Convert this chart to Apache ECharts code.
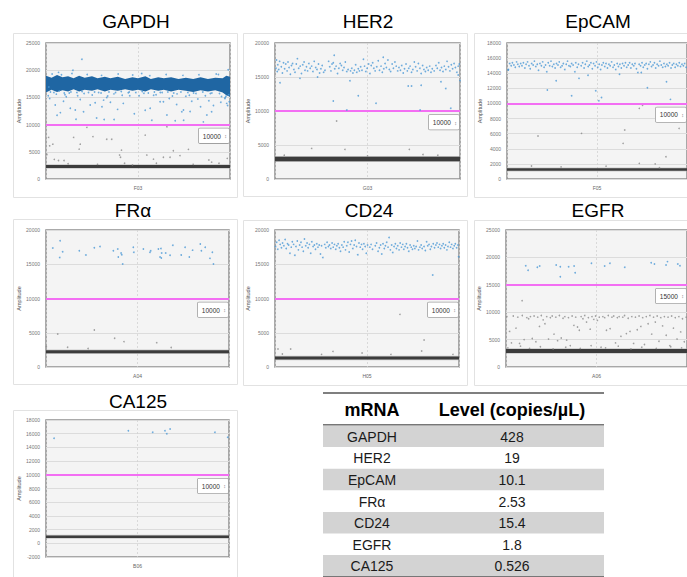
<!DOCTYPE html>
<html><head><meta charset="utf-8">
<script src="https://cdn.jsdelivr.net/npm/echarts@6/dist/echarts.min.js"></script>
<style>html,body{margin:0;padding:0;background:#fff}#c{width:687px;height:577px}</style>
</head><body><div id="c"></div>
<script>
// ---------- DATA ----------
const panelNames = ['GAPDH','HER2','EpCAM','FRα','CD24','EGFR','CA125'];
const wellIds = ['F03','G03','F05','A04','H05','A06','B06'];
const thresholds = [10000,10000,10000,10000,10000,15000,10000];
const negBandLevels = [2300,2950,1250,2230,1320,2900,950];
const yMins = [0,0,0,0,0,0,-2000];
const yMaxs = [25000,20000,18000,20000,20000,25000,18000];
const yIntervals = [5000,5000,2000,5000,5000,5000,2000];

// GAPDH dense positive cloud (upper / lower edges)
const gapdhCloudUpper = [[0,19000],[3,18600],[6,19100],[9,18700],[12,18900],[15,18500],[18,19000],[21,18600],[25,18900],[28,18500],[32,18800],[35,18500],[39,18800],[43,18400],[47,18700],[50,18500],[54,18900],[57,18400],[61,18700],[64,18500],[68,18700],[72,18400],[76,18600],[80,18400],[84,18700],[88,18400],[92,18600],[96,18500],[98,19000],[100,18800]];
const gapdhCloudLower = [[0,15900],[3,16400],[6,16000],[9,16300],[12,16100],[15,16500],[18,16100],[21,16400],[25,16200],[28,16500],[32,16100],[35,16400],[39,16200],[43,16500],[47,16200],[50,16400],[54,16100],[57,16500],[61,16200],[64,16400],[68,16100],[72,16400],[76,16200],[80,16000],[84,16300],[88,16100],[92,16300],[96,15900],[98,15400],[100,15100]];
const gapdhPos = [[19.5,22000],[14.6,20000],[6.8,19600],[5,13600],[7.8,12200],[6,11700],[16.3,11000],[18.6,14600],[9.5,14300],[13.2,13000],[15.9,12700],[20.4,12350],[26.7,14000],[30.4,13300],[31.3,14500],[33,15000],[38.9,12800],[37,10950],[31.6,10950],[52,19400],[93.7,19200],[99,20100],[98.2,13900],[98.7,13500],[97.4,15000],[53.9,12650],[56.6,13000],[57.5,10800],[70.2,10700],[74.8,10800],[85.5,10500],[73.8,12350],[74.7,12700],[78.3,12400],[79.2,14300],[65.7,11750],[62,14200],[63.8,14200],[71,13700],[87.4,11750],[90,12350],[91,13500],[88.5,14400],[82.5,14700],[2,14800],[11,15100],[24,13600],[27.5,11200],[35,14100],[42,13900],[45.5,15300],[48,12000],[58.5,15400],[67,14800],[76,15200],[84,13300],[95,14100],[1.5,16900],
[1.2,15300],[3.3,19300],[5.6,15600],[8.4,19150],[10.3,15500],[12.6,15800],[14.1,19400],[17.2,15300],[20.7,15700],[22.4,19200],[25.1,15450],[28.6,15900],[30.2,19050],[33.5,15250],[36.9,15650],[39.2,19300],[41.4,15400],[44.7,15850],[47.1,19100],[50.6,15300],[53.2,15750],[56.4,19000],[59.8,15500],[62.1,15900],[65.3,19200],[68.7,15250],[71.2,15650],[74.4,19050],[77.9,15400],[80.2,15800],[83.1,19150],[86.6,15300],[89.3,15700],[92.5,19300],[95.4,15150],[97.2,14800],[99.3,15500],[99.6,14200],
[2.4,16000],[4.3,15900],[7.2,16200],[9.9,15800],[13.5,16000],[16.8,15900],[19.6,16100],[23.1,15900],[26.4,16000],[29.9,15800],[34.2,16000],[37.8,15900],[40.9,16100],[45.2,16000],[48.8,15900],[52.3,16100],[55.6,15800],[58.9,16000],[63.1,15900],[66.2,16000],[69.4,15800],[73.3,16000],[77.1,15900],[81.5,15700],[85.2,16000],[90.1,15800],[94.3,15700],[97.8,15200]];
const gapdhNeg = [[22.2,9500],[1.4,7650],[2,6100],[3.7,6400],[15,7650],[25.5,7800],[18.6,6400],[18,5500],[33,7300],[35.7,7300],[41,5300],[40,4400],[40.5,4000],[4.5,3600],[6.8,3400],[9.8,3400],[42.7,2900],[53.9,8070],[65.7,9600],[69.2,5200],[77.4,5450],[54.8,4400],[58.4,3650],[63.8,4000],[67.4,4000],[72.8,4300],[88.5,3500],[94,2900],[98.5,3800],[0.5,4500],[12,2800],[28,2700],[47,2600],[60,2900],[80,2700],[90,3100]];

const her2Pos = [[0.5,16300],[0.8,17500],[1.2,15800],[1.5,16800],[2,16100],[2.5,17300],[3.4,16500],[4,15600],[4.6,17100],[5.2,16200],[5.8,16900],[6.5,15900],[7,17200],[7.6,16400],[8.3,15400],[8.9,16700],[9.5,17000],[10.2,16100],[10.8,15700],[11.5,16900],[12.1,17700],[12.8,16300],[13.6,16600],[14.3,15500],[15,16800],[15.7,17200],[16.2,16000],[17,16500],[17.6,15900],[18.3,17000],[19,16300],[19.8,16600],[20.5,15800],[21.2,17300],[22,16400],[22.7,16100],[23.5,16900],[24.1,15600],[24.8,16200],[25.5,16700],[26.3,15700],[27,16000],[29,17300],[29.6,16500],[30.2,15900],[30.8,16900],[31.5,17100],[32.3,16200],[33,16600],[33.8,15500],[34.5,16300],[35.2,17000],[35.9,16700],[36.6,16000],[37.3,16400],[38,17200],[38.8,15800],[39.5,16100],[40.8,15900],[41.5,16300],[42.1,15600],[42.9,16000],[43.6,16800],[44.2,15700],[45,16200],[45.6,15900],[46.3,16500],[47,16000],[47.8,17600],[48.4,16600],[49.1,15800],[49.8,16300],[50.6,16900],[51.3,15500],[52,16700],[52.8,17100],[53.4,16300],[54.1,15900],[55,16500],[55.8,17400],[56.5,16000],[57.3,16600],[58,15700],[58.8,16200],[59.5,17000],[60.2,16400],[61,17500],[61.8,16100],[62.5,15800],[63.3,16900],[64,16300],[64.8,17200],[65.5,16600],[66.3,15900],[67,16400],[67.8,16000],[68.5,16700],[69.3,15600],[70,16200],[70.8,16900],[71.5,15900],[72.3,16300],[73,16600],[73.8,15700],[74.5,16100],[75.3,17200],[76,16500],[76.8,15900],[77.5,17000],[78.3,16300],[79,15500],[79.8,16700],[80.5,16100],[81.3,15800],[82,16400],[82.8,16000],[83.6,16600],[84.3,15700],[85,16200],[86,15900],[87,16700],[87.7,16300],[88.5,17100],[89.2,16000],[90,16400],[90.8,15800],[91.5,16600],[92.3,16100],[93,17300],[93.8,16500],[94.5,15900],[95.3,16800],[96,16200],[96.8,17000],[97.5,16400],[98.3,15700],[99,16600],[99.6,16900],
[2.7,14160],[31.5,11470],[45,12250],[54.6,11130],[38.8,10150],[78.4,10150],[95,10400],[40.5,14460],[72,13680],[73.8,13680],[79,13800],[92.3,13300],[89.7,14300],[13.5,14800],[23,15000],[100,14500],[99,15300],[32,18200],[58.5,17900]];
const her2Neg = [[33.3,8530],[19.8,4500],[37.8,4350],[72.6,4350],[80,3600],[5,3500],[50,3400],[88,3500]];

const epcamPos = [[0.8,14500],[1.5,15300],[2.3,15000],[3,15400],[3.8,15100],[4.6,14800],[5.3,15500],[6,15200],[6.8,14900],[7.6,15300],[8.3,15000],[9.1,15400],[9.9,14700],[10.6,15200],[11.4,15500],[12.2,15000],[12.9,14600],[13.7,15300],[14.5,15100],[15.2,15600],[16,14900],[16.8,15200],[17.5,14400],[18.3,15300],[19.1,15000],[19.8,15500],[20.6,14800],[21.4,15100],[22.1,14200],[22.9,15400],[23.7,15000],[24.4,15600],[25.2,14900],[26,15200],[26.7,14700],[27.5,15300],[28.3,15100],[29,15500],[29.8,14800],[30.6,15000],[31.3,15300],[32.1,14500],[32.9,15200],[33.6,15600],[34.4,15000],[35.2,14900],[35.9,15300],[36.7,15100],[38.2,15400],[39,14800],[39.7,15200],[41.2,15000],[42,15400],[42.8,14700],[43.5,15200],[44.3,15600],[45.1,14900],[45.8,15100],[46.6,15400],[47.4,14600],[48.1,15300],[48.9,15000],[49.7,15500],[50.4,14800],[51.2,15200],[52,14500],[52.7,15100],[53.5,15400],[54.3,14900],[55,15300],[55.8,14700],[56.6,15200],[57.3,15000],[58.1,15500],[58.9,14800],[59.6,15100],[60.4,14500],[61.2,15300],[61.9,14900],[62.7,15200],[63.5,14700],[64.2,15300],[65,15000],[65.8,15400],[66.5,14800],[67.3,15100],[68.1,15400],[68.8,14700],[69.6,15200],[70.4,15000],[71.1,15300],[71.9,14600],[72.7,14100],[73.4,15200],[74.2,15000],[75,15400],[75.7,14800],[76.5,15100],[77.3,15300],[78,14600],[78.8,15200],[79.6,15500],[80.3,14900],[81.1,15100],[81.9,15400],[82.6,14700],[83.4,15200],[84.2,15000],[84.9,15600],[85.7,15100],[86.5,14800],[87.2,15300],[88,14900],[88.8,15200],[89.5,15000],[90.3,15400],[91.1,14700],[91.8,15100],[92.6,15300],[93.4,14800],[94.1,15200],[94.9,15000],[95.7,15400],[96.4,14900],[97.2,15200],[98,15000],[98.7,15300],[99.5,14800],
[0.7,14420],[22.4,11770],[27.3,13000],[35.9,11020],[37.7,14200],[40,13320],[45,13740],[49.3,11680],[51,10360],[52.5,10800],[62.5,13850],[74.6,14100],[78,12080],[88.6,12870],[90.8,10540]];
const epcamNeg = [[73.5,9350],[75.3,9750],[17.2,5690],[41.4,6040],[65.4,6480],[64.5,4720],[73.5,2070],[82.3,2000],[88.3,2950],[95.6,6700],[13.6,1720],[84.7,1500],[30,1600],[55,1700]];

const fraPos = [[3.7,17370],[7.7,18440],[7.5,16000],[9.1,16830],[18.2,16980],[21.8,16350],[26.4,17420],[29.5,17580],[36.8,16980],[39.2,17220],[39.5,16050],[41,16640],[41.4,16400],[41.9,15040],[47.7,17470],[48,16740],[53.2,17230],[56.8,16740],[57.2,16980],[61.4,17230],[62.3,16050],[62.8,17300],[63.2,16640],[63,15900],[65.4,16640],[67.8,16300],[69.3,17760],[73.9,16350],[76,17480],[78.3,16050],[80.1,17060],[84.3,17960],[84.9,16980],[87,17480],[89.6,15860],[90.9,16740],[91.5,15040]];
const fraNeg = [[6.4,4820],[26.4,5400],[37.5,4190],[42.6,3700],[60.5,3550],[11.8,2880],[68.4,2850],[0.2,2950],[23,2700]];

const cd24Pos = [[0.3,17600],[0.9,18200],[1.5,17200],[2.2,18500],[2.8,17900],[3.5,17400],[4.1,18100],[4.8,17700],[5.5,18600],[6.1,17300],[6.8,18000],[7.4,17800],[8.1,16600],[8.8,17500],[9.4,18300],[10.1,17900],[10.8,16300],[11.4,17600],[12.1,18400],[12.7,17100],[13.4,17800],[14.1,18200],[14.7,17500],[15.4,16900],[16,18700],[16.7,17700],[17.4,18100],[18,17400],[18.7,17900],[19.4,16600],[20,18300],[20.7,17600],[21.4,17800],[22,17200],[22.7,18000],[23.3,17500],[24,17800],[24.7,16500],[25.3,17700],[26,16000],[27,17900],[27.6,17400],[28.3,18200],[29,17600],[29.6,17800],[30.3,17300],[31,18100],[31.6,17500],[32.3,17900],[33,17200],[33.6,17700],[34.3,18000],[35,17400],[35.6,16900],[36.3,17800],[37,17500],[37.6,18300],[38.3,17100],[39,17700],[39.6,18200],[40.3,16800],[41,17900],[41.6,18400],[42.3,17300],[43,17800],[43.6,18500],[44.3,17600],[45,16400],[45.6,18100],[46.3,17500],[47,17900],[47.6,17200],[48.3,18000],[49,17600],[49.6,16600],[50.3,17800],[51.5,17500],[52.2,17900],[53,17200],[54.5,17700],[55.2,18100],[56,16900],[56.7,17400],[57.4,17800],[58,16500],[58.7,18000],[59.4,17300],[60,17700],[60.7,18200],[61.4,17500],[62,18900],[62.7,17100],[63.4,17800],[64,16700],[64.7,17600],[65.4,18000],[66,17300],[66.7,17700],[67.4,17100],[68,18100],[68.7,17500],[69.4,17900],[70,17200],[70.7,17600],[71.4,18000],[72,17400],[72.7,16900],[73.4,17800],[74,17500],[74.7,17200],[75.4,17700],[76,17300],[76.7,17600],[77.4,18400],[78,17100],[78.7,17500],[79.4,17800],[80,17300],[81,17600],[81.7,17000],[82.4,18300],[83,17700],[83.7,17900],[84.4,17200],[85,17600],[86,18000],[86.7,17400],[87.4,17800],[88,18100],[88.7,17500],[89.4,17900],[90,17300],[90.7,17700],[91.4,18000],[92,17400],[92.7,17800],[93.4,17100],[94,17600],[94.7,18200],[95.4,17500],[96,17900],[96.7,17300],[97.4,17700],[98,18000],[98.7,17400],[99.4,17800],[99.8,16100],[85.7,13430]];
const cd24Neg = [[67.9,7690],[81,3940],[79.7,2330],[8.5,2630],[1.6,2630],[25.3,1850],[31.5,2280],[47.3,2040],[63,1850],[96.7,1850],[4,1900]];

const egfrPos = [[10.9,18490],[12.2,17640],[17.3,18190],[18.6,18430],[27.7,18610],[30,18310],[30,16480],[34.6,18310],[37.6,18430],[38.2,17210],[47.2,18920],[54.5,18430],[57.4,18920],[65.6,18190],[80.2,19040],[82,18800],[88.4,18610],[89.2,19230],[94.9,18800],[96.1,18490]];
const egfrNeg = [[0.5,9200],[2,6500],[3,4400],[4,9300],[5.5,7100],[6.5,9100],[7.5,4300],[9,9400],[10,5000],[11.5,9000],[12.5,8800],[13.5,9200],[14.5,5200],[15.5,9300],[16.5,4600],[17.5,9100],[18.5,7400],[19.5,9400],[20.5,8600],[21.5,7900],[22.5,9200],[23.5,5100],[24.5,9000],[25.5,9300],[26.5,6000],[27.5,9100],[28.5,4800],[29.5,9400],[30.5,5300],[31.5,8900],[32.5,9200],[33.5,4900],[34.5,9000],[35.5,3900],[36.5,9300],[37.5,7600],[38.5,9100],[39.5,7300],[40.5,6700],[41.5,9200],[42.5,8800],[43.5,9400],[44.5,8200],[45.5,9000],[46.5,6900],[47.5,9200],[48.5,8700],[49.5,9300],[50.5,8500],[51.5,9100],[52.5,3600],[53.5,9200],[54.5,9000],[55.5,6700],[56.5,9400],[57.5,7000],[58.5,9100],[59.5,9300],[60.5,4400],[61.5,9000],[62.5,9200],[63.5,5600],[64.5,9100],[65.5,9400],[66.5,6100],[67.5,8900],[68.5,6500],[69.5,9200],[70.5,4300],[71.5,9100],[72.5,6800],[73.5,9300],[74.5,7400],[75.5,9000],[76.5,4100],[77.5,9200],[78.5,7900],[79.5,9400],[80.5,6000],[81.5,9100],[82.5,8200],[83.5,9300],[84.5,4700],[85.5,9000],[86.5,7500],[87.5,9200],[88.5,5800],[89.5,9100],[90.5,3900],[91.5,9300],[92.5,7100],[93.5,9000],[94.5,5100],[95.5,9200],[96.5,6400],[97.5,8800],[98.5,4600],[99.5,9100],
[1,3500],[8,3800],[13,3400],[19,3700],[26,3300],[33,3600],[41,3400],[47,3900],[55,3500],[62,3800],[69,3300],[75,3600],[83,3400],[91,3700],[97,3500],[8.9,12100]];

const ca125Pos = [[4.4,15330],[45,16440],[58.3,16200],[65,16440],[66,16000],[67.8,16690],[92.3,16200],[99.3,15470]];
const ca125Neg = [];

const posData = [gapdhPos, her2Pos, epcamPos, fraPos, cd24Pos, egfrPos, ca125Pos];
const negData = [gapdhNeg, her2Neg, epcamNeg, fraNeg, cd24Neg, egfrNeg, ca125Neg];

const tableHeader = ['mRNA', 'Level (copies/µL)'];
const tableGenes = ['GAPDH','HER2','EpCAM','FRα','CD24','EGFR','CA125'];
const tableLevels = ['428','19','10.1','2.53','15.4','1.8','0.526'];

// ---------- LAYOUT / STYLE ----------
const FONT = '"Liberation Sans", Arial, sans-serif';
const layouts = [
  {grid:[46,43,184,136], frame:[13,33,224,164], title:[136,21], band:3},
  {grid:[275,43,185,136], frame:[243,33,224,163], title:[368,21], band:4.5},
  {grid:[507,43,182,136], frame:[474,33,220,164], title:[598,21], band:2.5},
  {grid:[46,230,183,137], frame:[13,219,224,165], title:[133,210], band:3},
  {grid:[275,230,184,137], frame:[243,220,224,165], title:[369,210], band:3},
  {grid:[506,230,183,137], frame:[474,220,220,165], title:[598,210], band:4},
  {grid:[46,420,183,137], frame:[13,410,224,167], title:[138,401], band:2.5}
];

const grids = [], xAxes = [], yAxes = [], series = [], graphics = [];
layouts.forEach((L, i) => {
  grids.push({left:L.grid[0], top:L.grid[1], width:L.grid[2], height:L.grid[3], show:true,
    backgroundColor:'#f4f4f4', borderColor:'#8e8e8e', borderWidth:1.5});
  xAxes.push({gridIndex:i, type:'value', min:0, max:100, interval:50,
    axisLabel:{show:false}, axisTick:{show:false}, axisLine:{show:false},
    splitLine:{show:true, lineStyle:{color:'#d2d2d2', type:[2,2], width:0.8}},
    name:wellIds[i], nameLocation:'middle', nameGap:6,
    nameTextStyle:{fontSize:5, color:'#666', fontFamily:FONT}});
  yAxes.push({gridIndex:i, type:'value', min:yMins[i], max:yMaxs[i], interval:yIntervals[i],
    axisLabel:{fontSize:5, color:'#777', margin:6, fontFamily:FONT, formatter:v => String(v)},
    axisTick:{show:false}, axisLine:{show:false},
    splitLine:{show:true, lineStyle:{color:'#dcdcdc', width:1}},
    name:'Amplitude', nameLocation:'middle', nameGap:24,
    nameTextStyle:{fontSize:5.5, color:'#555', fontFamily:FONT}});
  // negative droplet band
  const lvl = negBandLevels[i];
  series.push({type:'line', xAxisIndex:i, yAxisIndex:i, data:[[0,lvl],[100,lvl]], symbol:'none', silent:true,
    lineStyle:{color:'#aaaaaa', width:L.band+1.5, opacity:0.55}, z:2, animation:false});
  series.push({type:'line', xAxisIndex:i, yAxisIndex:i, data:[[0,lvl],[100,lvl]], symbol:'none', silent:true,
    lineStyle:{color:'#3c3c3c', width:L.band}, z:3, animation:false});
  // gray droplets
  series.push({type:'scatter', xAxisIndex:i, yAxisIndex:i, data:negData[i], symbolSize:1.6,
    itemStyle:{color:'#8a8a8a'}, silent:true, z:4, animation:false});
  // GAPDH dense cloud
  if (i === 0) {
    series.push({type:'custom', xAxisIndex:0, yAxisIndex:0, data:[0], silent:true, z:4, animation:false,
      renderItem:(params, api) => {
        const pts = gapdhCloudUpper.map(p => api.coord(p)).concat(gapdhCloudLower.slice().reverse().map(p => api.coord(p)));
        return {type:'polygon', shape:{points:pts}, style:{fill:'#1f66a3'}};
      }});
  }
  // blue droplets + threshold
  const t = thresholds[i];
  series.push({type:'scatter', xAxisIndex:i, yAxisIndex:i, data:posData[i], symbolSize:1.7,
    itemStyle:{color:'#4b98d6'}, silent:true, z:5, animation:false,
    markLine:{silent:true, symbol:'none', animation:false,
      lineStyle:{color:'#f36ef3', width:2, type:'solid'},
      label:{show:true, position:'insideEndBottom', distance:[1,4],
        formatter:'{a|' + t + '} {b|↕}',
        backgroundColor:'#fff', borderColor:'#a0a0a0', borderWidth:0.8, padding:[1.5,2,1,4], borderRadius:1,
        rich:{a:{fontSize:6.5, color:'#333', fontFamily:FONT}, b:{fontSize:5.5, color:'#777', fontFamily:FONT}}},
      data:[{yAxis:t}]}});
  // frames + titles
  graphics.push({type:'rect', shape:{x:L.frame[0]+0.5, y:L.frame[1]+0.5, width:L.frame[2], height:L.frame[3]},
    style:{fill:'none', stroke:'#e2e2e2', lineWidth:1}, silent:true, z:-1});
  graphics.push({type:'text', x:L.title[0], y:L.title[1], silent:true,
    style:{text:panelNames[i], font:'19px ' + FONT, fill:'#000', textAlign:'center', align:'center', textVerticalAlign:'middle', verticalAlign:'middle'}});
});

// table
const TX0 = 323, TX1 = 604, C1 = 372, C2 = 512, headY = 410, rowY0 = 425.5, rowH = 21.6;
tableGenes.forEach((g, r) => {
  if (r % 2 === 0) {
    graphics.push({type:'rect', shape:{x:TX0, y:rowY0 + r*rowH, width:TX1-TX0, height:rowH},
      style:{fill:'#d3d3d3'}, silent:true, z:1});
  }
  const cy = rowY0 + r*rowH + rowH/2 + 0.5;
  graphics.push({type:'text', x:C1, y:cy, silent:true, z:2,
    style:{text:g, font:'14px ' + FONT, fill:'#1a1a1a', textAlign:'center', align:'center', textVerticalAlign:'middle', verticalAlign:'middle'}});
  graphics.push({type:'text', x:C2, y:cy, silent:true, z:2,
    style:{text:tableLevels[r], font:'14px ' + FONT, fill:'#1a1a1a', textAlign:'center', align:'center', textVerticalAlign:'middle', verticalAlign:'middle'}});
});
graphics.push({type:'text', x:C1, y:headY, silent:true, z:2,
  style:{text:tableHeader[0], font:'bold 18px ' + FONT, fill:'#000', textAlign:'center', align:'center', textVerticalAlign:'middle', verticalAlign:'middle'}});
graphics.push({type:'text', x:C2, y:headY, silent:true, z:2,
  style:{text:tableHeader[1], font:'bold 18px ' + FONT, fill:'#000', textAlign:'center', align:'center', textVerticalAlign:'middle', verticalAlign:'middle'}});
[[393,'#555',1.5],[424.8,'#777',1.5],[576.5,'#777',1]].forEach(([y,c,w]) => {
  graphics.push({type:'line', shape:{x1:TX0, y1:y, x2:TX1, y2:y}, style:{stroke:c, lineWidth:w}, silent:true, z:3});
});

const chart = echarts.init(document.getElementById('c'), null, {renderer:'svg'});
chart.setOption({
  animation:false,
  backgroundColor:'#fff',
  grid:grids, xAxis:xAxes, yAxis:yAxes, series:series,
  graphic:{elements:graphics}
});
</script></body></html>
